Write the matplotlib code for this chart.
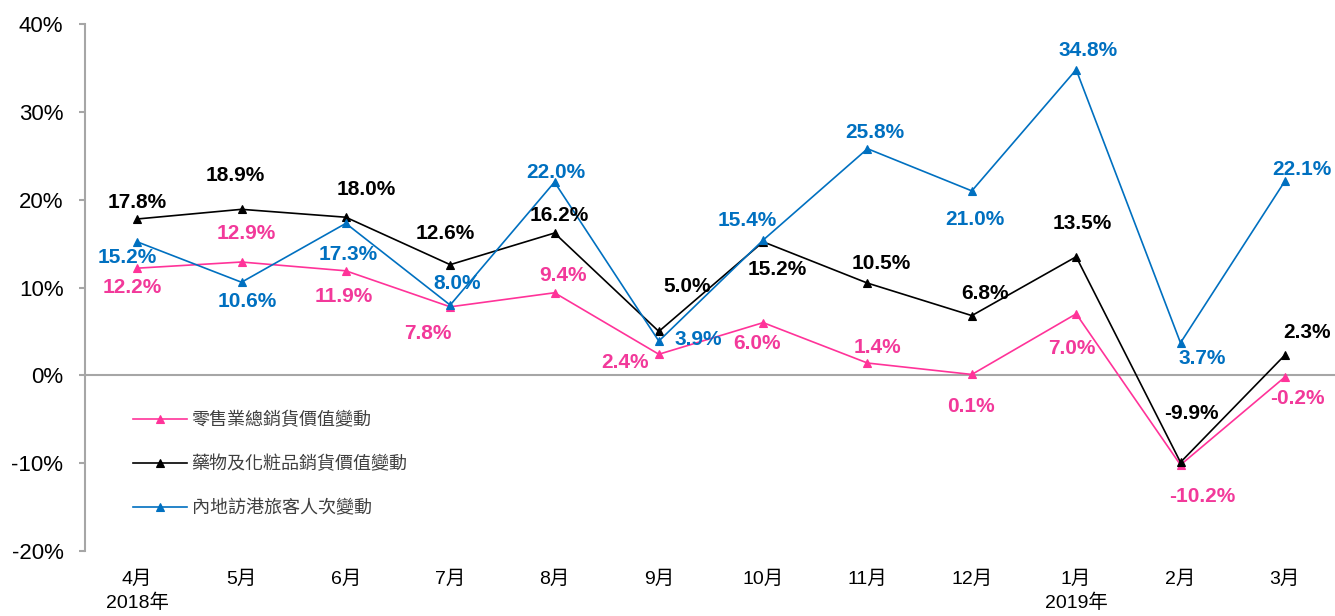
import matplotlib
matplotlib.use("Agg")
import matplotlib.pyplot as plt

months = ["4月\n2018年", "5月", "6月", "7月", "8月", "9月", "10月", "11月", "12月", "1月\n2019年", "2月", "3月"]
retail = [12.2, 12.9, 11.9, 7.8, 9.4, 2.4, 6.0, 1.4, 0.1, 7.0, -10.2, -0.2]
drugs = [17.8, 18.9, 18.0, 12.6, 16.2, 5.0, 15.2, 10.5, 6.8, 13.5, -9.9, 2.3]
visitors = [15.2, 10.6, 17.3, 8.0, 22.0, 3.9, 15.4, 25.8, 21.0, 34.8, 3.7, 22.1]
series_names = ["零售業總銷貨價值變動", "藥物及化粧品銷貨價值變動", "內地訪港旅客人次變動"]
yticks = [-20, -10, 0, 10, 20, 30, 40]

# label offsets in pixels (dx, dy with y up)
off_retail = [(-5, -19), (5, 29), (-2, -26), (-22, -27), (8, 17), (-34, -8), (-6, -21), (10, 16), (-1, -32), (-4, -35), (22, -32), (13, -21)]
off_drugs = [(0, 16), (-6, 34), (20, 28), (-5, 31), (5, 18), (28, 45), (14, -28), (14, 20), (13, 22), (6, 33), (11, 49), (22, 23)]
off_vis = [(-10, -16), (6, -19), (2, -31), (7, 22), (1, 10), (39, 2), (-16, 20), (7, 16), (3, -29), (12, 19), (22, -16), (17, 12)]

PINK = "#FF3399"
PINK_T = "#F2399A"
BLUE = "#0070C0"
BLACK = "#000000"
SANS = ["Liberation Sans", "Noto Sans CJK TC"]

fig = plt.figure(figsize=(13.35, 6.16), dpi=100)
ax = fig.add_axes([85/1335, 65/616, 1252/1335, 527/616])

x = list(range(len(months)))
series = [(retail, PINK, PINK_T, off_retail), (drugs, BLACK, BLACK, off_drugs), (visitors, BLUE, BLUE, off_vis)]
handles = []
for (vals, col, tcol, offs), name in zip(series, series_names):
    ln, = ax.plot(x, vals, color=col, lw=1.2, marker="^", ms=5.5, markeredgewidth=0.8,
                  markerfacecolor=col, markeredgecolor=col, label=name, zorder=3)
    handles.append(ln)
    for xi, v, (dx, dy) in zip(x, vals, offs):
        ax.annotate(f"{v:.1f}%", (xi, v), xytext=(dx, dy), textcoords="offset pixels",
                    ha="center", va="center", color=tcol, fontsize=15,
                    fontweight="bold", family=SANS, zorder=4)

ax.axhline(0, color="#A6A6A6", lw=1.5, zorder=2)
ax.set_xlim(-0.5, len(months) - 0.5)
ax.set_ylim(-20, 40)
ax.set_yticks(yticks)
ax.set_yticklabels([f"{t}%" for t in yticks], family=SANS, fontsize=16)
ax.set_xticks(x)
ax.set_xticklabels(months, family=SANS, fontsize=14, linespacing=1.4, va="top")
ax.tick_params(axis="x", length=0, pad=14)
ax.tick_params(axis="y", length=4.5, width=1.5, color="#A6A6A6", pad=11)
for s in ["top", "right", "bottom"]:
    ax.spines[s].set_visible(False)
ax.spines["left"].set_color("#A6A6A6")
ax.spines["left"].set_linewidth(1.5)

leg = ax.legend(handles=handles, loc="upper left", bbox_to_anchor=(133/1335, 1 - 411/616),
                bbox_transform=fig.transFigure, frameon=False, borderpad=0, borderaxespad=0,
                handlelength=3.0, handletextpad=0.25, labelspacing=1.45, numpoints=1,
                prop={"family": ["Noto Sans CJK TC"], "size": 13})
for t in leg.get_texts():
    t.set_color("#404040")

fig.savefig("out.png", dpi=100)
